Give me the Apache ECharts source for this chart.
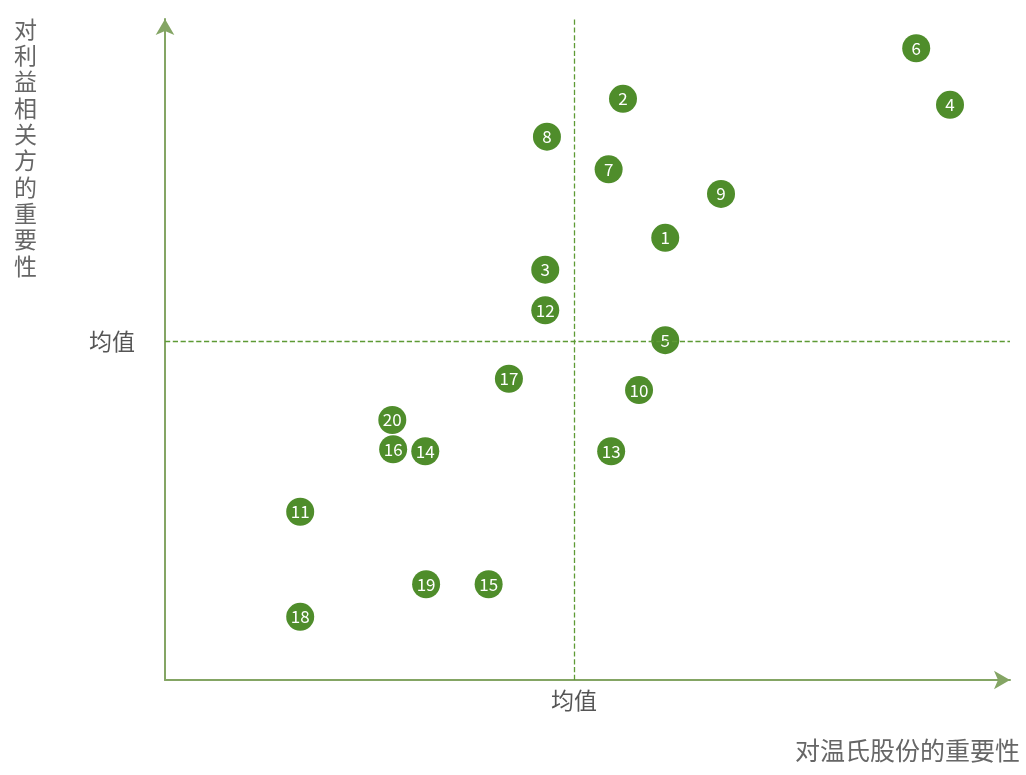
<!DOCTYPE html>
<html>
<head>
<meta charset="utf-8">
<script src="https://cdn.jsdelivr.net/npm/echarts@6/dist/echarts.min.js"></script>
<style>html,body{margin:0;padding:0;background:#fff;}#c{width:1026px;height:775px;}</style>
</head>
<body>
<div id="c"></div>
<script>
const ids = ['1','2','3','4','5','6','7','8','9','10','11','12','13','14','15','16','17','18','19','20'];
const xValues = [59.2, 54.2, 45.0, 92.9, 59.2, 88.9, 52.5, 45.2, 65.8, 56.1, 16.0, 45.0, 52.8, 30.8, 38.3, 27.0, 40.7, 16.0, 30.9, 26.9];
const yValues = [66.5, 87.4, 61.7, 86.5, 51.1, 95.0, 76.8, 81.7, 73.1, 43.6, 25.3, 55.6, 34.4, 34.4, 14.4, 34.7, 45.3, 9.5, 14.4, 39.1];
const meanX = 48.4;
const meanY = 51.0;
const meanLabel = '均值';
const xTitle = '对温氏股份的重要性';
const yTitle = '对利益相关方的重要性';

const data = ids.map((id, i) => ({ name: id, value: [xValues[i], yValues[i]] }));
const font = '"Noto Sans CJK SC", "Noto Sans", sans-serif';
const chart = echarts.init(document.getElementById('c'));
chart.setOption({
  backgroundColor: '#fff',
  animation: false,
  grid: { left: 165, right: 16, top: 19, bottom: 95 },
  xAxis: {
    type: 'value', min: 0, max: 100,
    splitLine: { show: false },
    axisTick: { show: false },
    axisLine: { onZero: false, lineStyle: { color: '#84a564', width: 2 }, symbol: ['none', 'arrow'], symbolSize: [14, 16] },
    axisLabel: { customValues: [meanX], formatter: () => meanLabel, color: '#555', fontSize: 23, fontFamily: font, margin: 9 }
  },
  yAxis: {
    type: 'value', min: 0, max: 99.4,
    splitLine: { show: false },
    axisTick: { show: false },
    axisLine: { onZero: false, lineStyle: { color: '#84a564', width: 2 }, symbol: ['none', 'arrow'], symbolSize: [14, 16] },
    axisLabel: { customValues: [meanY], formatter: () => meanLabel, color: '#555', fontSize: 23, fontFamily: font, margin: 30 }
  },
  graphic: [
    { type: 'text', left: 14, top: 16, style: { text: yTitle.split('').join('\n'), font: '23px ' + font, fill: '#666', lineHeight: 26.3 } },
    { type: 'text', right: 6, top: 738, style: { text: xTitle, font: '25px ' + font, fill: '#666' } }
  ],
  series: [{
    type: 'scatter',
    data: data,
    symbolSize: 28,
    itemStyle: { color: '#4f8d2b', opacity: 1 },
    label: { show: true, position: 'inside', formatter: p => p.name, color: '#fff', fontSize: 17, fontFamily: font },
    markLine: {
      silent: true, symbol: 'none',
      label: { show: false },
      lineStyle: { type: 'dashed', color: '#5e9a35', width: 1.3 },
      data: [{ xAxis: meanX }, { yAxis: meanY }]
    },
    z: 3
  }]
});
</script>
</body>
</html>
